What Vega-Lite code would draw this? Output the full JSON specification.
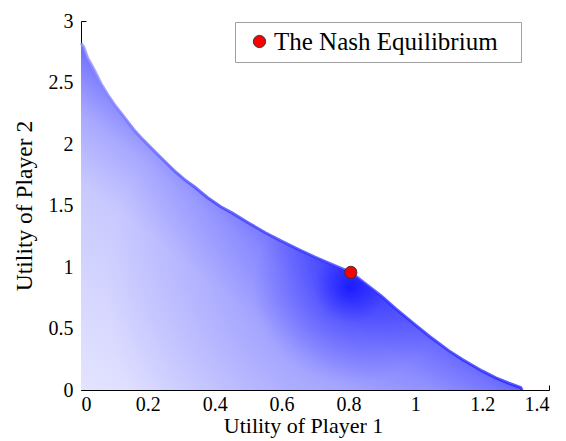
{
  "$schema": "https://vega.github.io/schema/vega-lite/v6.json",
  "autosize": "none",
  "width": 468,
  "height": 369,
  "padding": {"left": 81, "top": 21, "right": 17, "bottom": 51},
  "background": "white",
  "config": {
    "view": {"stroke": null},
    "font": "Liberation Serif",
    "axis": {
      "domainColor": "black",
      "tickColor": "black",
      "domainWidth": 1,
      "tickWidth": 1,
      "tickSize": -5,
      "labelFont": "Liberation Serif",
      "labelFontSize": 20,
      "labelColor": "black",
      "titleFont": "Liberation Serif",
      "titleFontSize": 22,
      "titleFontWeight": "normal",
      "titleColor": "black",
      "grid": false
    },
    "legend": {
      "labelFont": "Liberation Serif",
      "labelFontSize": 25,
      "labelColor": "black",
      "labelLimit": 400
    }
  },
  "datasets": {
    "region": [
      {"u1": 0, "u2": 2.82},
      {"u1": 0.008, "u2": 2.79},
      {"u1": 0.02, "u2": 2.7},
      {"u1": 0.03, "u2": 2.65},
      {"u1": 0.042, "u2": 2.59},
      {"u1": 0.06, "u2": 2.49},
      {"u1": 0.08, "u2": 2.4},
      {"u1": 0.1, "u2": 2.32},
      {"u1": 0.12, "u2": 2.25},
      {"u1": 0.14, "u2": 2.18},
      {"u1": 0.16, "u2": 2.11},
      {"u1": 0.18, "u2": 2.05},
      {"u1": 0.22, "u2": 1.94},
      {"u1": 0.25, "u2": 1.86},
      {"u1": 0.28, "u2": 1.78},
      {"u1": 0.31, "u2": 1.71},
      {"u1": 0.34, "u2": 1.65},
      {"u1": 0.378, "u2": 1.565},
      {"u1": 0.418, "u2": 1.49},
      {"u1": 0.453, "u2": 1.438},
      {"u1": 0.5, "u2": 1.36},
      {"u1": 0.553, "u2": 1.276},
      {"u1": 0.6, "u2": 1.21},
      {"u1": 0.653, "u2": 1.14},
      {"u1": 0.7, "u2": 1.08},
      {"u1": 0.752, "u2": 1.019},
      {"u1": 0.807, "u2": 0.956},
      {"u1": 0.842, "u2": 0.883},
      {"u1": 0.9, "u2": 0.76},
      {"u1": 0.942, "u2": 0.66},
      {"u1": 1.0, "u2": 0.53},
      {"u1": 1.042, "u2": 0.437},
      {"u1": 1.1, "u2": 0.32},
      {"u1": 1.141, "u2": 0.248},
      {"u1": 1.2, "u2": 0.155},
      {"u1": 1.241, "u2": 0.099},
      {"u1": 1.28, "u2": 0.055},
      {"u1": 1.315, "u2": 0.02},
      {"u1": 1.32, "u2": 0.0}
    ],
    "nash": [
      {"u1": 0.807, "u2": 0.956, "label": "The Nash Equilibrium"}
    ]
  },
  "layer": [
    {
      "data": {"name": "region"},
      "mark": {
        "type": "area",
        "color": {
          "gradient": "linear",
          "x1": 0, "y1": 1, "x2": 1, "y2": 0,
          "stops": [
            {"offset": 0, "color": "#e4e4ff"},
            {"offset": 0.3, "color": "#c8c8ff"},
            {"offset": 0.4, "color": "#a8a8ff"},
            {"offset": 0.47, "color": "#8080ff"},
            {"offset": 0.5, "color": "#6a6aff"}
          ]
        }
      },
      "encoding": {
        "x": {
          "field": "u1", "type": "quantitative",
          "scale": {"domain": [0, 1.4], "nice": false},
          "axis": {
            "values": [0, 0.2, 0.4, 0.6, 0.8, 1, 1.2, 1.4],
            "format": "~g",
            "title": "Utility of Player 1",
            "labelPadding": 9,
            "titlePadding": 1,
            "titleX": 222
          }
        },
        "y": {
          "field": "u2", "type": "quantitative",
          "scale": {"domain": [0, 3], "nice": false},
          "axis": {
            "values": [0, 0.5, 1, 1.5, 2, 2.5, 3],
            "format": "~g",
            "title": "Utility of Player 2",
            "titleFontSize": 23.5,
            "labelPadding": 13,
            "titlePadding": 12
          }
        }
      }
    },
    {
      "data": {"name": "region"},
      "mark": {
        "type": "area",
        "color": {
          "gradient": "radial",
          "x1": 0.61, "y1": 0.66, "r1": 0,
          "x2": 0.61, "y2": 0.66, "r2": 0.55,
          "stops": [
            {"offset": 0, "color": "rgba(0,0,255,0.8)"},
            {"offset": 0.15, "color": "rgba(0,0,255,0.45)"},
            {"offset": 0.4, "color": "rgba(0,0,255,0.18)"},
            {"offset": 1, "color": "rgba(0,0,255,0)"}
          ]
        }
      },
      "encoding": {
        "x": {"field": "u1", "type": "quantitative"},
        "y": {"field": "u2", "type": "quantitative"}
      }
    },
    {
      "data": {"name": "region"},
      "mark": {
        "type": "line",
        "strokeWidth": 3,
        "opacity": 0.75,
        "color": {
          "gradient": "linear",
          "x1": 0, "y1": 0, "x2": 1, "y2": 0,
          "stops": [
            {"offset": 0, "color": "#9090ff"},
            {"offset": 0.3, "color": "#3a3aff"},
            {"offset": 1, "color": "#2020ff"}
          ]
        }
      },
      "encoding": {
        "x": {"field": "u1", "type": "quantitative"},
        "y": {"field": "u2", "type": "quantitative"}
      }
    },
    {
      "data": {"name": "nash"},
      "mark": {"type": "point", "shape": "circle", "filled": true, "size": 150, "stroke": "#333333", "strokeWidth": 1, "opacity": 1},
      "encoding": {
        "x": {"field": "u1", "type": "quantitative"},
        "y": {"field": "u2", "type": "quantitative"},
        "color": {
          "field": "label", "type": "nominal",
          "scale": {"range": ["#ff0000"]},
          "legend": {
            "title": " ",
            "titleOrient": "right",
            "titleFontSize": 10,
            "titlePadding": 16,
            "orient": "none",
            "legendX": 154,
            "legendY": 1,
            "padding": 7,
            "strokeColor": "#a0a0a0",
            "fillColor": "white",
            "symbolSize": 150,
            "symbolStrokeColor": "#333333",
            "symbolStrokeWidth": 1,
            "symbolOffset": 5,
            "labelOffset": 2
          }
        }
      }
    }
  ]
}
